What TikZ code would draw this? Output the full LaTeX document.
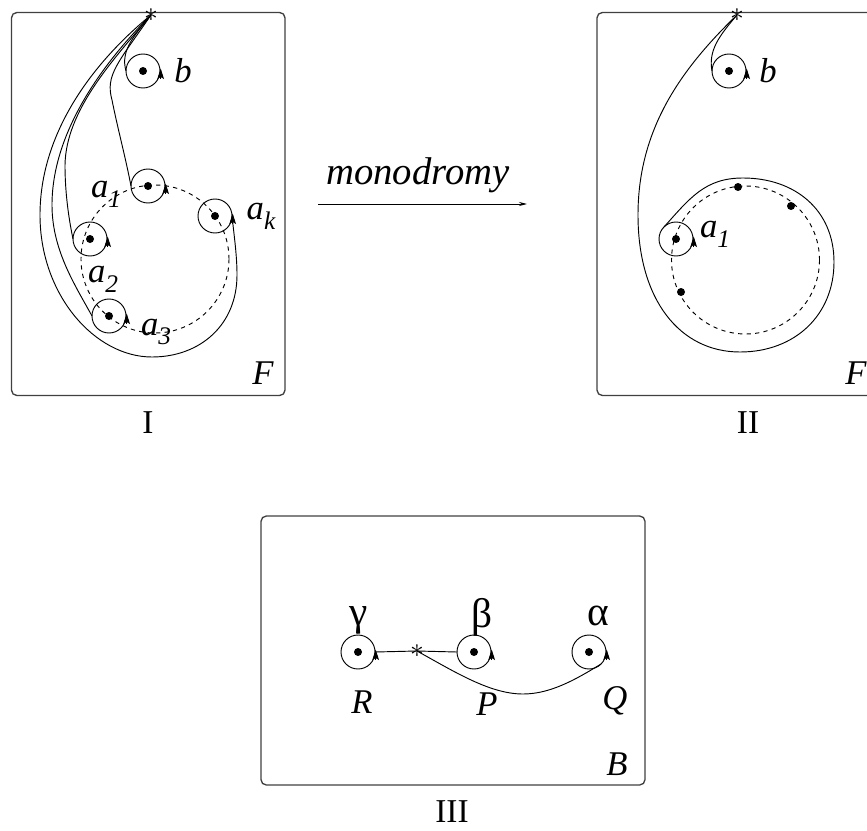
\documentclass[tikz,border=0pt]{standalone}
\usepackage{fontspec}
\setmainfont{Liberation Serif}
\usetikzlibrary{arrows.meta}
\tikzset{every picture/.style={line width=0.7pt}}
\tikzset{
  panel/.style={draw=black!75,line width=1pt,rounded corners=4pt},
  loopcirc/.style={draw,circle,minimum size=25.5pt,inner sep=0pt,outer sep=0pt},
  puncture/.style={fill,circle,minimum size=6pt,inner sep=0pt},
  looptip/.style={-{Stealth[length=8pt,width=5pt,inset=1.5pt]}},
  basept/.style={inner sep=0pt,font=\fontsize{20}{20}\selectfont},
  lbl/.style={inner sep=0pt,font=\fontsize{26}{28}\selectfont\itshape},
  captext/.style={inner sep=0pt,font=\fontsize{25}{28}\selectfont},
  greek/.style={inner sep=0pt,font=\fontsize{31}{32}\selectfont}
}
\newcommand{\subl}[2]{#1\raisebox{-0.28em}{\fontsize{19}{19}\selectfont #2}}

\begin{document}
\begin{tikzpicture}[x=0.75pt,y=0.75pt,yscale=-1,xscale=1]
\useasboundingbox (0,0) rectangle (867,831);

%Panels
\draw [panel] (11.5,12.5) rectangle (285,395.5);
\begin{scope}
\clip (0,0) rectangle (867,831);
\draw [panel] (597,12.5) rectangle (880,395.5);
\end{scope}
\draw [panel] (261,516) rectangle (645,785);

%Dashed circles
\draw [dash pattern={on 3.2pt off 3.2pt}] (155,259) circle [radius=74];
\draw [dash pattern={on 3.2pt off 3.2pt}] (745.5,260) circle [radius=74];

%Loops
\foreach \name/\x/\y in {bI/143/71,aone/148/186,ak/215/216,atwo/90/239,athree/109/316,bII/729/71,aII/676/239,gam/358/652,bet/474/652,alp/589/652}{
  \node [loopcirc] (\name) at (\x,\y) {};
  \node [puncture] (\name dot) at (\x,\y) {};
  \draw [looptip] ([xshift=0.5pt,yshift=6pt]\name.east) -- ([xshift=0.5pt,yshift=-2pt]\name.east);
}

%Bare punctures of II
\node [puncture] (p1) at (738,187) {};
\node [puncture] (p2) at (791,206) {};
\node [puncture] (p3) at (681,292) {};

%Base points
\node [basept] (starI) at (151,15) {$\ast$};
\node [basept] (starII) at (737,15) {$\ast$};
\node [basept] (starIII) at (417,651) {$\ast$};

%Curves of I
\draw (starI.center) .. controls (118,63) and (105,75) .. (112,100) .. controls (118,130) and (125,155) .. (aone.west);
\draw (starI.center) .. controls (135,35) and (120,50) .. (bI.west);
\draw (starI.center) .. controls (113,60) and (66,110) .. (65,165) .. controls (65,190) and (68,215) .. (atwo.west);
\draw (starI.center) .. controls (99,67) and (52,135) .. (52,205) .. controls (52,250) and (75,285) .. (athree.west);
\draw (starI.center) .. controls (90,65) and (40,135) .. (40,215) .. controls (40,295) and (95,357) .. (152,357) .. controls (200,357) and (237,325) .. (237,275) .. controls (237,255) and (234,235) .. (ak.east);

%Curves of II
\draw (starII.center) .. controls (720,35) and (708,50) .. (bII.west);
\draw (starII.center) .. controls (680,70) and (638,130) .. (638,215) .. controls (638,300) and (680,352) .. (740,352) .. controls (795,352) and (834,315) .. (834,262) .. controls (834,210) and (795,178) .. (743,178) .. controls (705,178) and (690,198) .. (aII.north west);

%Curves of III
\draw (gam.east) -- (starIII.center) -- (bet.west);
\draw (starIII.center) .. controls (455,672) and (490,694) .. (523,694) .. controls (550,694) and (575,680) .. (alp.south east);

%Monodromy arrow
\node [lbl,font=\fontsize{29}{30}\selectfont\itshape] (mono) at (418,175) {monodromy};
\coordinate (arrL) at (318,204);
\coordinate (arrR) at (527,204);
\draw [-{Stealth[length=6pt,width=3pt]}] (arrL) -- (arrR);

%Labels
\node [lbl] (lb) at (183,71) {b};
\node [lbl] (la1) at (106,194) {\subl{a}{1}};
\node [lbl] (la2) at (103,279) {\subl{a}{2}};
\node [lbl] (la3) at (156,332) {\subl{a}{3}};
\node [lbl] (lak) at (261,216) {\subl{a}{k}};
\node [lbl] (lF) at (263,373) {F};
\node [captext] (lI) at (148,423) {I};
\node [lbl] (lb2) at (768,71) {b};
\node [lbl] (lat) at (715,234) {\subl{a}{1}};
\node [lbl] (lF2) at (856,373) {F};
\node [captext] (lII) at (748,423) {II};
\node [greek] (lg) at (359,620) {γ};
\node [greek] (lbe) at (482,617) {β};
\node [greek] (la) at (598,616) {α};
\node [lbl] (lR) at (362,702) {R};
\node [lbl] (lP) at (487,704) {P};
\node [lbl] (lQ) at (615,701) {Q};
\node [lbl] (lB) at (617,764) {B};
\node [captext] (lIII) at (452,812) {III};
\end{tikzpicture}
\end{document}
